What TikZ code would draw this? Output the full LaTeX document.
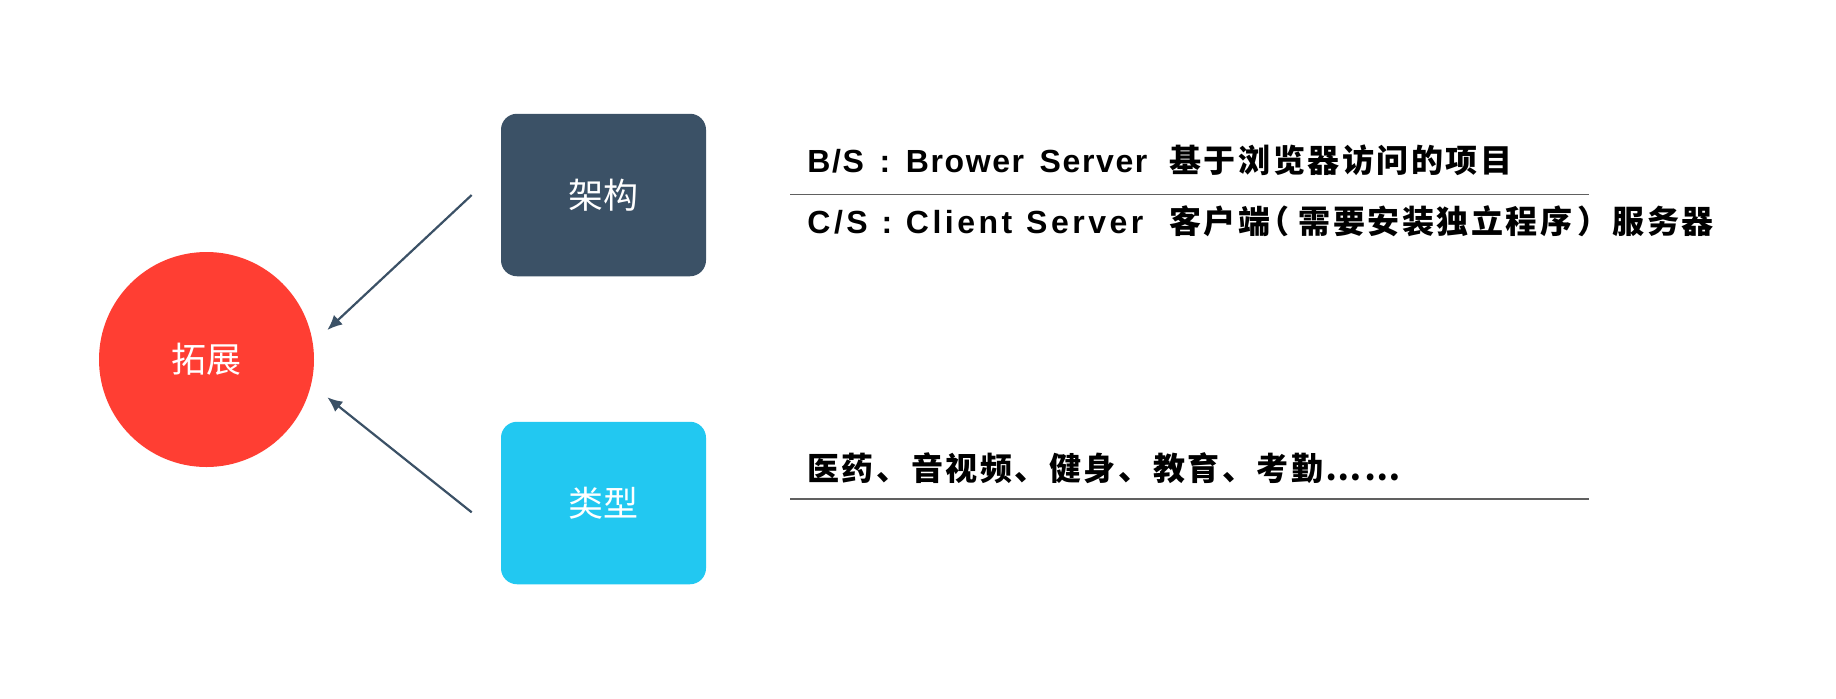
\documentclass[tikz,border=0pt]{standalone}
\usepackage{fontspec}
\usetikzlibrary{arrows.meta}
\newfontfamily\cjkr{Noto Sans CJK SC}
\newfontfamily\cjkb{Noto Sans CJK SC Black}[LetterSpace=8]
\newfontfamily\latb{Liberation Sans Bold}[LetterSpace=5]
\newfontfamily\latc{Liberation Sans Bold}[LetterSpace=11]
\definecolor{slate}{HTML}{3B5166}
\definecolor{cyanb}{HTML}{22C8F1}
\definecolor{redc}{HTML}{FF3E33}
\definecolor{rulegray}{HTML}{606060}
\newcommand\lpar{\makebox[14pt][l]{\hspace{-6.5pt}（}}
\newcommand\rpar{\makebox[20pt][l]{\hspace{2.5pt}）}}
\tikzset{
  boxlabel/.style={font=\cjkr\fontsize{17.5pt}{20pt}\selectfont, text=white},
  catbox/.style={boxlabel, rounded corners=8pt, minimum width=102.5pt, minimum height=81.25pt, inner sep=0},
  hub/.style={boxlabel, circle, fill=redc, minimum size=107.5pt, inner sep=0},
  conn/.style={draw=slate, line width=1.1pt, -{Latex[length=7.5pt,width=6.5pt]}},
  latpart/.style={anchor=base west, inner sep=0, text=black, font=\fontsize{16pt}{18pt}\selectfont},
  cjkpart/.style={anchor=base west, inner sep=0, text=black, font=\cjkb\fontsize{16pt}{18pt}\selectfont},
  sep/.style={draw=rulegray, line width=0.8pt}
}
\begin{document}
\begin{tikzpicture}[x=0.5pt,y=-0.5pt]
\useasboundingbox (0,0) rectangle (1836,698);
\node[hub] (ext) at (206.5,359.5) {拓展};
\node[catbox, fill=slate] (arch) at (603.5,195) {架构};
\node[catbox, fill=cyanb] (type) at (603.5,503) {类型};
\coordinate (a1s) at (471.7,195);
\coordinate (a1e) at (327.3,330);
\coordinate (a2s) at (471.7,512.3);
\coordinate (a2e) at (327.3,397.3);
\draw[conn] (a1s) -- (a1e);
\draw[conn] (a2s) -- (a2e);
\node[latpart] (bsl) at (807,172.5) {\latb\makebox[170pt][s]{B/S : Brower Server}};
\node[cjkpart] (bsc) at (1169,172.5) {基于浏览器访问的项目};
\node[latpart] (csl) at (807,233) {\latc\makebox[168pt][s]{C/S : Client Server}};
\node[cjkpart] (csc) at (1169,233) {客户端\lpar 需要安装独立程序\rpar 服务器};
\node[cjkpart] (kinds) at (807,480) {医药、音视频、健身、教育、考勤……};
\coordinate (r1a) at (790,194.4);
\coordinate (r1b) at (1589,194.4);
\coordinate (r2a) at (790,498.8);
\coordinate (r2b) at (1589,498.8);
\draw[sep] (r1a) -- (r1b);
\draw[sep] (r2a) -- (r2b);
\end{tikzpicture}
\end{document}
